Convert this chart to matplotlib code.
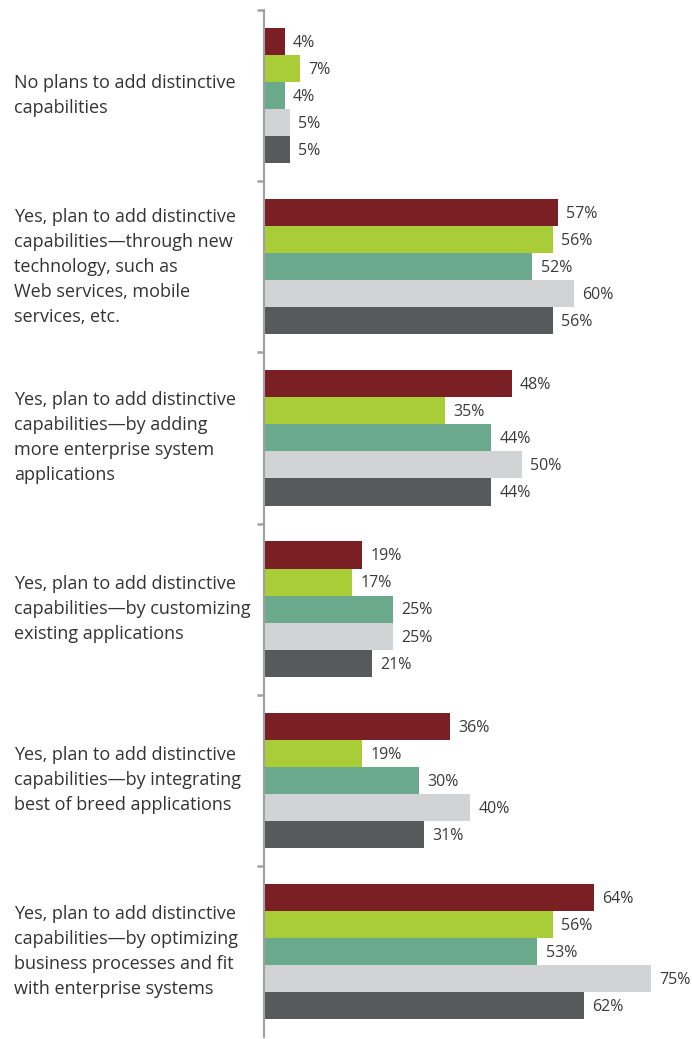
import matplotlib
matplotlib.use("Agg")
import matplotlib.pyplot as plt
import matplotlib.transforms as mtransforms
import numpy as np

categories = [
    "No plans to add distinctive\ncapabilities",
    "Yes, plan to add distinctive\ncapabilities\u2014through new\ntechnology, such as\nWeb services, mobile\nservices, etc.",
    "Yes, plan to add distinctive\ncapabilities\u2014by adding\nmore enterprise system\napplications",
    "Yes, plan to add distinctive\ncapabilities\u2014by customizing\nexisting applications",
    "Yes, plan to add distinctive\ncapabilities\u2014by integrating\nbest of breed applications",
    "Yes, plan to add distinctive\ncapabilities\u2014by optimizing\nbusiness processes and fit\nwith enterprise systems",
]

series_a = [4, 57, 48, 19, 36, 64]
series_b = [7, 56, 35, 17, 19, 56]
series_c = [4, 52, 44, 25, 30, 53]
series_d = [5, 60, 50, 25, 40, 75]
series_e = [5, 56, 44, 21, 31, 62]

series = [series_a, series_b, series_c, series_d, series_e]
colors = ["#7a1f24", "#a8cd36", "#6ba98c", "#d2d3d5", "#58595b"]

plt.rcParams["font.family"] = ["Open Sans", "DejaVu Sans"]

W, H = 692, 1039
fig = plt.figure(figsize=(W / 100, H / 100), dpi=100)
left_px, top_px, bottom_px = 264, 10, 1037
ax = fig.add_axes([left_px / W, 1 - bottom_px / H, (W - left_px) / W, (bottom_px - top_px) / H])

n = len(categories)
bar_h = 0.158
y = np.arange(n)
px_per_unit = 5.16
ax.set_xlim(0, (W - left_px) / px_per_unit)
ax.set_ylim(n - 0.5, -0.5)

for j, vals in enumerate(series):
    pos = y + (j - 2) * bar_h
    ax.barh(pos, vals, height=bar_h, color=colors[j], edgecolor="none", zorder=2)
    for p, v in zip(pos, vals):
        ax.annotate(f"{v}%", (v, p), xytext=(6, -1), textcoords="offset points",
                    va="center", ha="left", fontsize=11.5, color="#3a3a3a")

label_tf = mtransforms.blended_transform_factory(fig.transFigure, ax.transData)
for i, label in enumerate(categories):
    fig.text(14 / W, y[i], label, transform=label_tf,
             fontsize=13, color="#333333", va="center", ha="left",
             linespacing=1.5)

for s in ["top", "right", "bottom"]:
    ax.spines[s].set_visible(False)
ax.spines["left"].set_color("#a0a0a0")
ax.spines["left"].set_linewidth(1.5)
ax.set_xticks([])
ax.set_yticks(np.arange(-0.5, n - 1, 1.0))
ax.set_yticklabels([])
ax.tick_params(axis="y", direction="out", length=5, width=1.8, color="#a0a0a0")

fig.savefig("out.png", dpi=100)
